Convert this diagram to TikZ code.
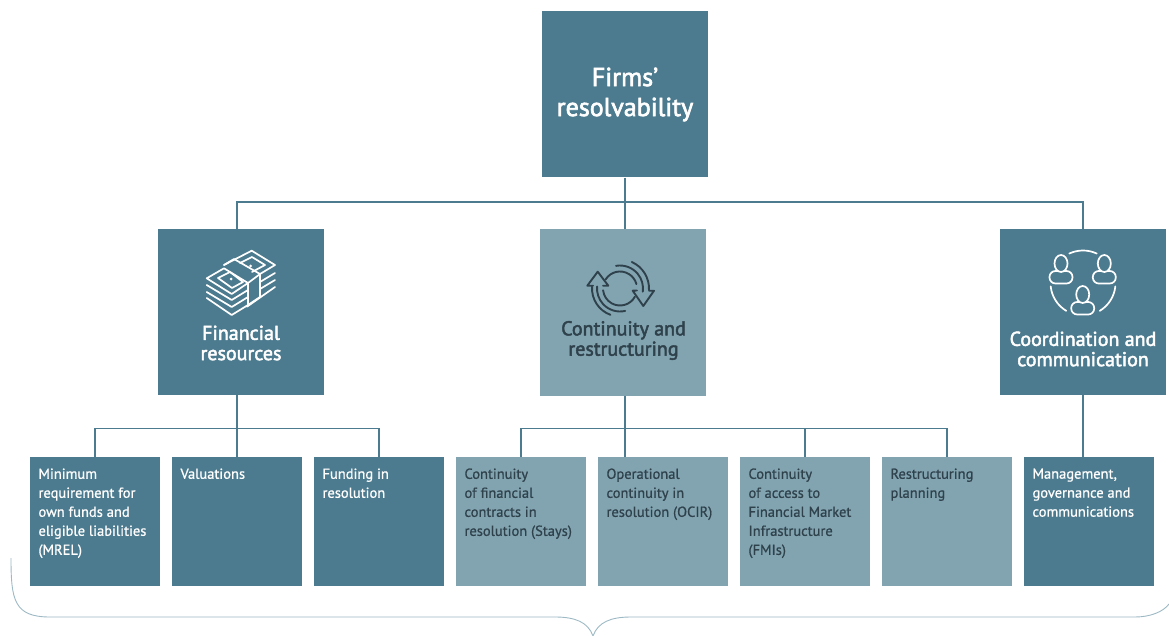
\documentclass[tikz,border=0pt]{standalone}
\usepackage{fontspec}
\setmainfont{PT Sans}
\newfontfamily\headfont[FakeBold=2.4]{PT Sans}
\newfontfamily\labelfont[FakeBold=0.8]{PT Sans}
\definecolor{darkteal}{HTML}{4C7B8F}
\definecolor{lightteal}{HTML}{82A4B1}
\definecolor{darkink}{HTML}{2F424C}
\definecolor{braceline}{HTML}{9DB9C4}
\tikzset{
	bigbox/.style={fill=darkteal, minimum width=166pt, minimum height=166pt, inner sep=0pt},
	bigboxlight/.style={bigbox, fill=lightteal},
	smallbox/.style={fill=darkteal, text=white, minimum width=130pt, minimum height=129.5pt, inner sep=0pt, font=\labelfont\fontsize{14.5}{19}\selectfont},
	smallboxlight/.style={smallbox, fill=lightteal, text=darkink},
	headtext/.style={align=center, text=white, font=\headfont\fontsize{20}{20.3}\selectfont},
	link/.style={draw=darkteal, line width=1.3pt},
	iconline/.style={line width=1.7pt, line join=round, line cap=round},
}
\newcommand{\smalltext}[1]{\parbox[c][106pt][t]{113pt}{\raggedright #1}}
\begin{document}
\begin{tikzpicture}[x=1pt, y=-1pt]
	\useasboundingbox (0,0) rectangle (1169,636);

	% top box
	\node[bigbox, headtext, font=\headfont\fontsize{26}{30}\selectfont] (firms) at (625,94.5) {Firms’\\resolvability};

	% middle boxes
	\node[bigbox] (finance) at (241,312) {};
	\node[bigboxlight] (continuity) at (623,312.5) {};
	\node[bigbox] (coordination) at (1083,312) {};
	\node[headtext] (financetext) at (241,343) {Financial\\resources};
	\node[headtext, text=darkink] (continuitytext) at (623.5,340.5) {Continuity and\\restructuring};
	\node[headtext] (coordinationtext) at (1083,349) {Coordination and\\communication};

	% bottom boxes
	\node[smallbox] (mrel) at (95,521.5) {\smalltext{Minimum requirement for own funds and eligible liabilities (MREL)}};
	\node[smallbox] (valuations) at (237,521.5) {\smalltext{Valuations}};
	\node[smallbox] (funding) at (379,521.5) {\smalltext{Funding in resolution}};
	\node[smallboxlight] (stays) at (521,521.5) {\smalltext{Continuity\\of financial contracts in resolution (Stays)}};
	\node[smallboxlight] (ocir) at (663,521.5) {\smalltext{Operational continuity in resolution (OCIR)}};
	\node[smallboxlight] (fmi) at (805,521.5) {\smalltext{Continuity\\of access to Financial Market Infrastructure (FMIs)}};
	\node[smallboxlight] (planning) at (947,521.5) {\smalltext{Restructuring planning}};
	\node[smallbox] (governance) at (1089,521.5) {\smalltext{Management, governance and communications}};

	% connectors
	\coordinate (topbar) at (625,202);
	\coordinate (finbar) at (237,428.5);
	\coordinate (contbar) at (625,428.5);
	\draw[link] (firms.south) -- (topbar);
	\draw[link] (finance.north -| finbar) |- (topbar) -| (coordination.north);
	\draw[link] (topbar) -- (topbar |- continuity.north);

	\draw[link] (finance.south -| finbar) -- (finbar);
	\draw[link] (mrel.north) |- (finbar) -| (funding.north);
	\draw[link] (finbar) -- (valuations.north);

	\draw[link] (contbar |- continuity.south) -- (contbar);
	\draw[link] (stays.north) |- (contbar) -| (planning.north);
	\draw[link] (contbar) -- (contbar |- ocir.north);
	\draw[link] (fmi.north) -- (fmi.north |- contbar);

	\draw[link] (coordination.south) -- (coordination.south |- governance.north);

	% money icon
	\begin{scope}[iconline, draw=white]
		% back stack
		\draw (224,265) -- (251.7,250.7) -- (275,265) -- (260,274);
		\draw (260,282) -- (275,273);
		\draw (260,289) -- (275,280);
		\draw (247,306.7) -- (275,287);
		\draw (240,263) -- (252,257) -- (265,265) -- (252,272);
		\fill[white] (250.7,266) circle (1.5pt);
		% front stack
		\draw (206.7,285) -- (231.7,300) -- (248,290);
		\draw (206.7,292) -- (231.7,307) -- (248,297);
		\draw (206.7,298) -- (231.7,315) -- (248,305);
		\draw[fill=darkteal] (206.7,278.3) -- (224,268.3) -- (248,283) -- (231.7,294) -- cycle;
		\draw (218,278) -- (230,272) -- (243,282) -- (232,288) -- cycle;
		\fill[white] (231,279) circle (1.5pt);
		% band
		\draw (224,265) -- (234,259) -- (260,274) -- (248,283);
		\draw (248,283) -- (248,305) -- (260,297) -- (260,274);
	\end{scope}

	% arrows icon
	\begin{scope}[iconline, draw=darkink, line width=1.9pt, shift={(620,288.5)}]
		\draw (212:17) arc (212:345:17);
		\draw (29:17) arc (29:174:17);
		\draw (260:23) arc (260:368:23);
		\draw (294:29) arc (294:363:29);
		\draw (77:23) arc (77:185:23);
		\draw (110:28) arc (110:184:28);
		\draw (17,2) -- (12.7,2.2) -- (23.3,17.5) -- (34,2.2) -- (29,2.2);
		\draw (-27,-2.8) -- (-32.7,-2.8) -- (-22.3,-16.8) -- (-11.7,-2.8) -- (-17,-2.8);
	\end{scope}

	% people icon
	\begin{scope}[iconline, draw=white]
		\draw (1083,283) ++(245:32.5) arc (245:295:32.5);
		\draw (1083,283) ++(121:32.5) arc (121:174:32.5);
		\draw (1083,283) ++(6:32.5) arc (6:59:32.5);
		\foreach \cx/\cy in {1061/263.5, 1104.3/263.5, 1082.7/294.5} {
			\draw[rounded corners=6pt] (\cx-11.5,\cy+7.5) rectangle (\cx+11.5,\cy+20);
			\draw[fill=darkteal] (\cx,\cy) ellipse (6.5pt and 8.5pt);
		}
	\end{scope}

	% brace
	\coordinate (braceleft) at (11,558);
	\coordinate (braceright) at (1169,604);
	\coordinate (bracetip) at (593,636);
	\draw[braceline, line width=0.9pt] (braceleft) .. controls (11,600) and (14,617) .. (50,617) -- (555,617) .. controls (575,617) and (588,622) .. (bracetip) .. controls (598,622) and (611,617) .. (631,617) -- (1135,617) .. controls (1150,617) and (1163,612) .. (braceright);
\end{tikzpicture}
\end{document}
